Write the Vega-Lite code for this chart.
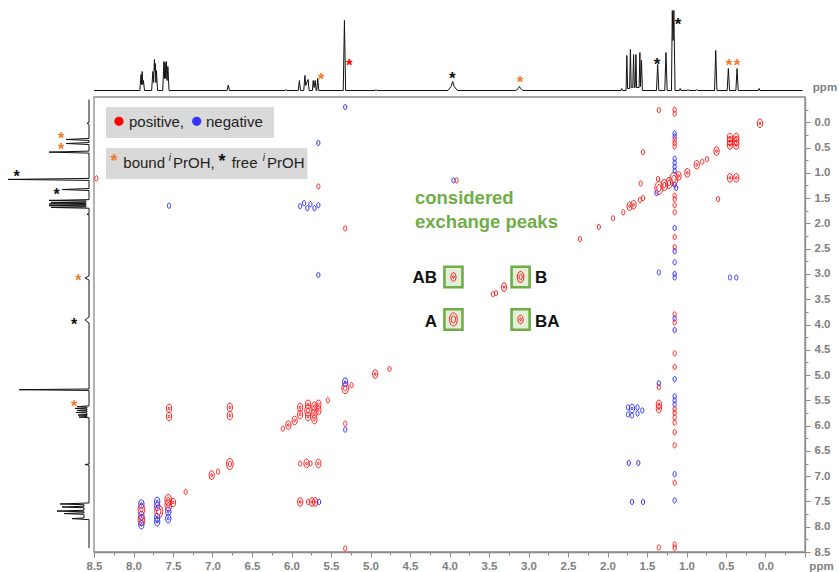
{
  "$schema": "https://vega.github.io/schema/vega-lite/v6.json",
  "width": 805,
  "height": 552,
  "autosize": {"type": "none"},
  "padding": {"left": 0, "top": 0, "right": 34, "bottom": 20},
  "background": "white",
  "config": {"view": {"stroke": null}, "axis": {"grid": false}, "font": "Liberation Sans"},
  "resolve": {"scale": {"x": "independent", "y": "independent", "color": "independent", "size": "independent"}, "axis": {"x": "independent", "y": "independent"}},
  "datasets": {
    "frame": [{"x1": -0.5, "x2": 8.5, "y1": -0.5, "y2": 8.5}],
    "legbox": [{"x1": 8.348, "x2": 6.222, "y1": -0.303, "y2": 0.311}, {"x1": 8.348, "x2": 5.80, "y1": 0.509, "y2": 1.123}],
    "boxes": [{"x": 3.95, "y": 3.06}, {"x": 3.10, "y": 3.06}, {"x": 3.95, "y": 3.90}, {"x": 3.10, "y": 3.90}],
    "peaks": [
      {"x":7.90,"y":7.55,"s":"negative","i":2},{"x":7.90,"y":7.66,"s":"positive","i":3},{"x":7.90,"y":7.78,"s":"negative","i":2},{"x":7.90,"y":7.87,"s":"positive","i":3},{"x":7.90,"y":7.96,"s":"negative","i":2},
      {"x":7.70,"y":7.50,"s":"negative","i":2},{"x":7.70,"y":7.60,"s":"negative","i":2},{"x":7.68,"y":7.70,"s":"positive","i":4},{"x":7.70,"y":7.82,"s":"negative","i":2},{"x":7.70,"y":7.90,"s":"negative","i":2},
      {"x":7.56,"y":7.47,"s":"positive","i":3},{"x":7.56,"y":7.58,"s":"positive","i":3},{"x":7.56,"y":7.70,"s":"negative","i":2},{"x":7.56,"y":7.84,"s":"negative","i":2},{"x":7.50,"y":7.52,"s":"positive","i":2},
      {"x":7.34,"y":7.31,"s":"positive","i":1},{"x":7.01,"y":6.98,"s":"positive","i":2},{"x":6.93,"y":6.91,"s":"positive","i":1},
      {"x":7.55,"y":5.66,"s":"positive","i":2},{"x":7.55,"y":5.82,"s":"positive","i":2},{"x":6.78,"y":5.64,"s":"positive","i":2},{"x":6.78,"y":5.80,"s":"positive","i":2},{"x":6.78,"y":6.76,"s":"positive","i":3},
      {"x":6.11,"y":6.06,"s":"positive","i":1},{"x":6.04,"y":5.99,"s":"positive","i":2},{"x":5.96,"y":5.90,"s":"positive","i":2},{"x":5.89,"y":5.64,"s":"positive","i":2},{"x":5.89,"y":5.78,"s":"positive","i":2},
      {"x":5.79,"y":5.58,"s":"positive","i":2},{"x":5.79,"y":5.70,"s":"positive","i":3},{"x":5.79,"y":5.82,"s":"positive","i":2},{"x":5.71,"y":5.62,"s":"positive","i":2},{"x":5.71,"y":5.76,"s":"positive","i":2},{"x":5.71,"y":5.88,"s":"positive","i":2},
      {"x":5.66,"y":5.58,"s":"positive","i":2},{"x":5.66,"y":5.70,"s":"positive","i":2},{"x":5.54,"y":5.50,"s":"positive","i":1},
      {"x":5.32,"y":5.26,"s":"positive","i":3},{"x":5.32,"y":5.14,"s":"negative","i":2},{"x":5.24,"y":5.20,"s":"positive","i":1},{"x":5.32,"y":5.96,"s":"positive","i":1},{"x":5.32,"y":6.08,"s":"negative","i":1},{"x":5.32,"y":8.43,"s":"positive","i":1},
      {"x":5.89,"y":6.75,"s":"positive","i":1},{"x":5.81,"y":6.75,"s":"positive","i":2},{"x":5.76,"y":6.75,"s":"positive","i":1},{"x":5.66,"y":6.75,"s":"positive","i":2},
      {"x":5.89,"y":7.51,"s":"positive","i":2},{"x":5.79,"y":7.51,"s":"positive","i":1},{"x":5.74,"y":7.51,"s":"positive","i":2},{"x":5.70,"y":7.51,"s":"positive","i":2},{"x":5.65,"y":7.51,"s":"negative","i":1},
      {"x":4.94,"y":4.98,"s":"positive","i":2},{"x":4.76,"y":4.88,"s":"positive","i":1},
      {"x":5.32,"y":-0.30,"s":"negative","i":1},{"x":5.66,"y":0.41,"s":"negative","i":1},{"x":5.66,"y":1.27,"s":"positive","i":1},{"x":7.55,"y":1.65,"s":"negative","i":1},
      {"x":5.89,"y":1.66,"s":"negative","i":1},{"x":5.84,"y":1.60,"s":"negative","i":1},{"x":5.80,"y":1.70,"s":"negative","i":1},{"x":5.76,"y":1.62,"s":"negative","i":1},{"x":5.71,"y":1.70,"s":"negative","i":1},{"x":5.66,"y":1.64,"s":"negative","i":1},
      {"x":5.32,"y":2.10,"s":"positive","i":1},{"x":5.66,"y":3.02,"s":"negative","i":1},{"x":3.95,"y":1.15,"s":"negative","i":1},{"x":3.91,"y":1.15,"s":"positive","i":1},{"x":8.47,"y":1.11,"s":"positive","i":1},
      {"x":3.31,"y":3.26,"s":"positive","i":2},{"x":3.45,"y":3.40,"s":"positive","i":1},{"x":3.41,"y":3.38,"s":"positive","i":1},{"x":2.35,"y":2.31,"s":"positive","i":1},{"x":2.11,"y":2.07,"s":"positive","i":1},
      {"x":1.93,"y":1.90,"s":"positive","i":1},{"x":1.80,"y":1.78,"s":"positive","i":1},{"x":1.72,"y":1.66,"s":"positive","i":2},{"x":1.67,"y":1.63,"s":"positive","i":2},{"x":1.59,"y":1.54,"s":"positive","i":1},{"x":1.55,"y":1.50,"s":"positive","i":1},
      {"x":3.95,"y":3.06,"s":"positive","i":2},{"x":3.10,"y":3.06,"s":"positive","i":3},{"x":3.95,"y":3.90,"s":"positive","i":4},{"x":3.10,"y":3.90,"s":"positive","i":2},
      {"x":1.35,"y":1.30,"s":"positive","i":4},{"x":1.28,"y":1.24,"s":"positive","i":3},{"x":1.22,"y":1.20,"s":"positive","i":3},{"x":1.16,"y":1.12,"s":"positive","i":4},{"x":1.36,"y":1.12,"s":"positive","i":1},{"x":1.10,"y":1.06,"s":"positive","i":2},
      {"x":0.99,"y":1.00,"s":"positive","i":2},{"x":0.87,"y":0.84,"s":"positive","i":2},{"x":0.80,"y":0.78,"s":"positive","i":1},{"x":0.74,"y":0.73,"s":"positive","i":1},{"x":0.62,"y":0.57,"s":"positive","i":2},{"x":0.07,"y":0.02,"s":"positive","i":2},
      {"x":0.45,"y":0.30,"s":"positive","i":2},{"x":0.45,"y":0.37,"s":"positive","i":2},{"x":0.45,"y":0.45,"s":"positive","i":2},{"x":0.37,"y":0.30,"s":"positive","i":2},{"x":0.37,"y":0.37,"s":"positive","i":2},{"x":0.37,"y":0.45,"s":"positive","i":2},
      {"x":0.45,"y":1.10,"s":"positive","i":2},{"x":0.37,"y":1.10,"s":"positive","i":2},{"x":0.45,"y":3.07,"s":"negative","i":1},{"x":0.37,"y":3.07,"s":"negative","i":1},
      {"x":1.58,"y":1.21,"s":"positive","i":1},{"x":1.55,"y":0.59,"s":"positive","i":1},{"x":0.60,"y":1.52,"s":"positive","i":1},{"x":1.35,"y":-0.24,"s":"positive","i":1},{"x":1.35,"y":2.97,"s":"negative","i":1},{"x":1.38,"y":1.40,"s":"negative","i":1},
      {"x":1.15,"y":-0.25,"s":"positive","i":1},{"x":1.15,"y":-0.17,"s":"positive","i":1},{"x":1.15,"y":0.22,"s":"negative","i":1},{"x":1.15,"y":0.28,"s":"negative","i":1},{"x":1.15,"y":0.34,"s":"positive","i":1},{"x":1.15,"y":0.41,"s":"positive","i":1},{"x":1.15,"y":0.48,"s":"positive","i":1},
      {"x":1.15,"y":0.72,"s":"negative","i":1},{"x":1.15,"y":0.80,"s":"negative","i":1},{"x":1.15,"y":0.88,"s":"negative","i":1},{"x":1.15,"y":0.96,"s":"negative","i":1},{"x":1.15,"y":1.24,"s":"negative","i":1},{"x":1.13,"y":1.30,"s":"negative","i":1},
      {"x":1.15,"y":1.45,"s":"positive","i":1},{"x":1.15,"y":1.52,"s":"positive","i":1},{"x":1.15,"y":1.64,"s":"positive","i":1},{"x":1.15,"y":1.78,"s":"positive","i":1},{"x":1.15,"y":2.09,"s":"negative","i":1},{"x":1.15,"y":2.27,"s":"positive","i":1},
      {"x":1.15,"y":2.47,"s":"positive","i":1},{"x":1.15,"y":2.55,"s":"negative","i":1},{"x":1.15,"y":2.77,"s":"negative","i":1},{"x":1.15,"y":3.00,"s":"negative","i":1},{"x":1.15,"y":3.07,"s":"negative","i":1},{"x":1.15,"y":3.80,"s":"positive","i":1},
      {"x":1.15,"y":3.88,"s":"negative","i":1},{"x":1.15,"y":3.96,"s":"positive","i":1},{"x":1.15,"y":4.11,"s":"negative","i":1},{"x":1.15,"y":4.57,"s":"positive","i":1},{"x":1.15,"y":4.84,"s":"positive","i":1},{"x":1.15,"y":5.08,"s":"negative","i":1},
      {"x":1.15,"y":5.42,"s":"negative","i":1},{"x":1.15,"y":5.50,"s":"negative","i":1},{"x":1.15,"y":5.58,"s":"negative","i":1},{"x":1.15,"y":5.67,"s":"positive","i":1},{"x":1.15,"y":5.75,"s":"positive","i":1},{"x":1.15,"y":5.84,"s":"positive","i":1},
      {"x":1.15,"y":5.94,"s":"positive","i":1},{"x":1.15,"y":6.13,"s":"positive","i":1},{"x":1.15,"y":6.39,"s":"positive","i":1},{"x":1.15,"y":6.96,"s":"negative","i":1},{"x":1.15,"y":7.13,"s":"positive","i":1},{"x":1.15,"y":7.48,"s":"negative","i":1},
      {"x":1.15,"y":8.35,"s":"positive","i":1},{"x":1.15,"y":8.42,"s":"positive","i":1},
      {"x":1.35,"y":5.16,"s":"negative","i":1},{"x":1.35,"y":5.24,"s":"positive","i":1},{"x":1.35,"y":5.58,"s":"positive","i":2},{"x":1.35,"y":5.66,"s":"positive","i":2},{"x":1.35,"y":8.41,"s":"positive","i":1},
      {"x":1.74,"y":5.64,"s":"negative","i":1},{"x":1.69,"y":5.66,"s":"negative","i":2},{"x":1.69,"y":5.80,"s":"negative","i":1},{"x":1.62,"y":5.64,"s":"negative","i":1},{"x":1.62,"y":5.76,"s":"negative","i":1},{"x":1.56,"y":5.70,"s":"negative","i":1},{"x":1.74,"y":5.78,"s":"negative","i":1},
      {"x":1.73,"y":6.74,"s":"negative","i":1},{"x":1.61,"y":6.74,"s":"negative","i":1},{"x":1.69,"y":7.51,"s":"negative","i":1},{"x":1.55,"y":7.51,"s":"negative","i":1}
    ],
    "top": [
      {"p":8.5,"h":0},{"p":7.92,"h":0},{"p":7.905,"h":16},{"p":7.898,"h":6},{"p":7.89,"h":19},{"p":7.882,"h":6},{"p":7.875,"h":10},{"p":7.86,"h":0},
      {"p":7.77,"h":0},{"p":7.755,"h":19},{"p":7.745,"h":8},{"p":7.735,"h":31},{"p":7.73,"h":20},{"p":7.725,"h":27},{"p":7.717,"h":8},{"p":7.71,"h":20},{"p":7.695,"h":0},
      {"p":7.63,"h":0},{"p":7.615,"h":29},{"p":7.607,"h":12},{"p":7.60,"h":28},{"p":7.592,"h":12},{"p":7.585,"h":29},{"p":7.575,"h":10},{"p":7.565,"h":24},{"p":7.55,"h":0},
      {"p":6.815,"h":0},{"p":6.80,"h":5.5},{"p":6.785,"h":0},{"p":6.08,"h":0},{"p":6.07,"h":1},{"p":6.06,"h":0},
      {"p":5.915,"h":0},{"p":5.90,"h":10},{"p":5.887,"h":0},{"p":5.845,"h":0},{"p":5.83,"h":15},{"p":5.82,"h":5},{"p":5.79,"h":11},{"p":5.777,"h":0},
      {"p":5.735,"h":0},{"p":5.725,"h":10},{"p":5.715,"h":3},{"p":5.70,"h":10},{"p":5.688,"h":0},{"p":5.68,"h":0},{"p":5.668,"h":12},{"p":5.655,"h":0},
      {"p":5.345,"h":0},{"p":5.33,"h":70},{"p":5.315,"h":0},{"p":4.94,"h":0},{"p":4.93,"h":1},{"p":4.92,"h":0},
      {"p":4.02,"h":0},{"p":3.98,"h":4},{"p":3.96,"h":9},{"p":3.94,"h":4},{"p":3.90,"h":0},
      {"p":3.16,"h":0},{"p":3.13,"h":2},{"p":3.115,"h":4},{"p":3.10,"h":2},{"p":3.07,"h":0},
      {"p":1.83,"h":0},{"p":1.82,"h":2},{"p":1.81,"h":0},
      {"p":1.765,"h":0},{"p":1.755,"h":35},{"p":1.745,"h":2},{"p":1.72,"h":2},{"p":1.71,"h":41},{"p":1.70,"h":3},{"p":1.68,"h":3},{"p":1.67,"h":36},{"p":1.66,"h":3},
      {"p":1.65,"h":3},{"p":1.64,"h":36},{"p":1.632,"h":3},{"p":1.60,"h":3},{"p":1.59,"h":38},{"p":1.582,"h":4},{"p":1.57,"h":30},{"p":1.558,"h":0},
      {"p":1.38,"h":0},{"p":1.365,"h":26},{"p":1.35,"h":0},{"p":1.275,"h":0},{"p":1.26,"h":38},{"p":1.245,"h":0},
      {"p":1.19,"h":0},{"p":1.18,"h":80},{"p":1.17,"h":50},{"p":1.16,"h":80},{"p":1.145,"h":0},
      {"p":1.09,"h":0},{"p":1.08,"h":2},{"p":1.07,"h":0},{"p":0.99,"h":0},{"p":0.98,"h":1},{"p":0.97,"h":0},{"p":0.88,"h":0},{"p":0.87,"h":1},{"p":0.86,"h":0},
      {"p":0.645,"h":0},{"p":0.63,"h":40},{"p":0.615,"h":0},{"p":0.485,"h":0},{"p":0.47,"h":22},{"p":0.455,"h":0},{"p":0.375,"h":0},{"p":0.36,"h":22},{"p":0.345,"h":0},
      {"p":0.09,"h":0},{"p":0.08,"h":2},{"p":0.07,"h":0},{"p":-0.47,"h":0}
    ],
    "left": [
      {"p":-0.45,"h":0},{"p":0.0,"h":0},{"p":0.02,"h":2},{"p":0.04,"h":0},
      {"p":0.32,"h":0},{"p":0.34,"h":23},{"p":0.36,"h":0},{"p":0.40,"h":0},{"p":0.42,"h":23},{"p":0.44,"h":0},
      {"p":0.57,"h":0},{"p":0.59,"h":40},{"p":0.61,"h":0},{"p":1.11,"h":0},{"p":1.13,"h":81},{"p":1.15,"h":0},
      {"p":1.31,"h":0},{"p":1.33,"h":27},{"p":1.35,"h":0},
      {"p":1.53,"h":0},{"p":1.545,"h":40},{"p":1.555,"h":3},{"p":1.575,"h":3},{"p":1.585,"h":38},{"p":1.595,"h":3},{"p":1.605,"h":3},{"p":1.615,"h":40},{"p":1.625,"h":3},
      {"p":1.64,"h":3},{"p":1.65,"h":40},{"p":1.66,"h":3},{"p":1.675,"h":3},{"p":1.685,"h":38},{"p":1.70,"h":0},
      {"p":1.81,"h":0},{"p":1.82,"h":2},{"p":1.83,"h":0},{"p":3.04,"h":0},{"p":3.08,"h":4},{"p":3.12,"h":0},{"p":3.85,"h":0},{"p":3.91,"h":4},{"p":3.97,"h":0},
      {"p":5.275,"h":0},{"p":5.29,"h":70},{"p":5.305,"h":0},
      {"p":5.61,"h":0},{"p":5.625,"h":12},{"p":5.635,"h":2},{"p":5.65,"h":2},{"p":5.66,"h":14},{"p":5.67,"h":2},{"p":5.69,"h":2},{"p":5.70,"h":12},{"p":5.71,"h":2},
      {"p":5.73,"h":2},{"p":5.74,"h":13},{"p":5.75,"h":2},{"p":5.78,"h":2},{"p":5.79,"h":11},{"p":5.80,"h":2},{"p":5.82,"h":2},{"p":5.83,"h":10},{"p":5.845,"h":0},
      {"p":6.76,"h":0},{"p":6.77,"h":4},{"p":6.78,"h":0},
      {"p":7.53,"h":0},{"p":7.55,"h":29},{"p":7.565,"h":5},{"p":7.595,"h":5},{"p":7.61,"h":27},{"p":7.625,"h":5},{"p":7.675,"h":5},{"p":7.69,"h":32},{"p":7.705,"h":5},
      {"p":7.725,"h":5},{"p":7.74,"h":25},{"p":7.755,"h":5},{"p":7.825,"h":5},{"p":7.84,"h":17},{"p":7.86,"h":0},{"p":8.42,"h":0}
    ],
    "topstars": [
      {"x":5.627,"h":15.5,"k":"bound"},{"x":5.268,"h":29.8,"k":"ref"},{"x":3.965,"h":16.5,"k":"free"},{"x":3.108,"h":12.5,"k":"bound"},
      {"x":1.373,"h":30.5,"k":"free"},{"x":1.108,"h":70.5,"k":"free"},{"x":0.462,"h":29.5,"k":"bound"},{"x":0.361,"h":29.5,"k":"bound"}
    ],
    "leftstars": [
      {"y":0.23,"h":28,"k":"bound"},{"y":0.445,"h":28,"k":"bound"},{"y":0.978,"h":72.3,"k":"free"},{"y":1.341,"h":32.3,"k":"free"},
      {"y":3.038,"h":10.7,"k":"bound"},{"y":3.915,"h":15,"k":"free"},{"y":5.533,"h":15,"k":"bound"}
    ],
    "legstars": [{"x":8.247,"y":0.687,"k":"bound"},{"x":6.88,"y":0.687,"k":"free"}],
    "legdots": [{"x":8.184,"y":-0.02,"s":"positive"},{"x":7.20,"y":-0.02,"s":"negative"}],
    "legtext": [{"t":"positive,","x":8.057,"y":0.0},{"t":"negative","x":7.082,"y":0.0},{"t":"bound","x":8.129,"y":0.81},{"t":"PrOH,","x":7.50,"y":0.81},{"t":"free","x":6.757,"y":0.81},{"t":"PrOH","x":6.31,"y":0.81}],
    "legsup": [{"t":"i","x":7.555,"y":0.70},{"t":"i","x":6.365,"y":0.70}],
    "green": [{"t":"considered","x":4.437,"y":1.50},{"t":"exchange peaks","x":4.437,"y":1.976}],
    "exlab": [{"t":"AB","x":4.158,"y":3.08},{"t":"A","x":4.158,"y":3.96},{"t":"B","x":2.918,"y":3.08},{"t":"BA","x":2.918,"y":3.96}],
    "ppmtop": [{"t":"ppm","x":-0.753,"h":3}]
  },
  "layer": [
    {
      "data": {"name": "frame"},
      "mark": {"type": "rect", "fill": null, "stroke": "#8a8a8a", "strokeWidth": 1.3},
      "encoding": {
        "x": {"field": "x1", "type": "quantitative", "scale": {"domain": [-0.5, 8.5], "range": [805, 94], "nice": false, "zero": false},
          "axis": {"orient": "bottom", "values": [8.5, 8, 7.5, 7, 6.5, 6, 5.5, 5, 4.5, 4, 3.5, 3, 2.5, 2, 1.5, 1, 0.5, 0, -0.5], "labelExpr": "datum.value < -0.25 ? '' : format(datum.value, '.1f')",
            "tickSize": 5, "tickColor": "#8a8a8a", "domainColor": "#8a8a8a", "domainWidth": 1.3, "labelColor": "#808080", "labelFont": "Liberation Sans", "labelFontWeight": "bold", "labelFontSize": 11.5,
            "labelPadding": 3, "labelOverlap": false, "labelFlush": false, "title": "ppm", "titleX": 821, "titleY": 14, "titleAlign": "center", "titleBaseline": "middle", "titleAngle": 0,
            "titleFont": "Liberation Sans", "titleFontWeight": "bold", "titleFontSize": 11.5, "titleColor": "#808080"}},
        "x2": {"field": "x2"},
        "y": {"field": "y1", "type": "quantitative", "scale": {"domain": [-0.5, 8.5], "range": [97, 552], "nice": false, "zero": false},
          "axis": {"orient": "right", "values": [0, 0.5, 1, 1.5, 2, 2.5, 3, 3.5, 4, 4.5, 5, 5.5, 6, 6.5, 7, 7.5, 8, 8.5], "format": ".1f",
            "tickSize": 5, "tickColor": "#8a8a8a", "domainColor": "#8a8a8a", "domainWidth": 1.3, "labelColor": "#808080", "labelFont": "Liberation Sans", "labelFontWeight": "bold", "labelFontSize": 11.5,
            "labelPadding": 4, "labelOverlap": false, "labelFlush": false, "title": null}},
        "y2": {"field": "y2"}
      }
    },
    {
      "data": {"name": "frame"},
      "mark": {"type": "point", "opacity": 0},
      "encoding": {
        "x": {"field": "x1", "type": "quantitative", "scale": {"domain": [-0.5, 8.5], "range": [805, 94], "nice": false, "zero": false},
          "axis": {"orient": "bottom", "values": [8.25, 7.75, 7.25, 6.75, 6.25, 5.75, 5.25, 4.75, 4.25, 3.75, 3.25, 2.75, 2.25, 1.75, 1.25, 0.75, 0.25, -0.25], "labels": false, "domain": false, "tickSize": 3, "tickColor": "#8a8a8a", "title": null}},
        "y": {"field": "y1", "type": "quantitative", "scale": {"domain": [-0.5, 8.5], "range": [97, 552], "nice": false, "zero": false},
          "axis": {"orient": "right", "values": [-0.25, 0.25, 0.75, 1.25, 1.75, 2.25, 2.75, 3.25, 3.75, 4.25, 4.75, 5.25, 5.75, 6.25, 6.75, 7.25, 7.75, 8.25], "labels": false, "domain": false, "tickSize": 3, "tickColor": "#8a8a8a", "title": null}}
      }
    },
    {
      "data": {"name": "legbox"},
      "mark": {"type": "rect", "fill": "#d9d9d9"},
      "encoding": {
        "x": {"field": "x1", "type": "quantitative", "scale": {"domain": [-0.5, 8.5], "range": [805, 94], "nice": false, "zero": false}, "axis": null},
        "x2": {"field": "x2"},
        "y": {"field": "y1", "type": "quantitative", "scale": {"domain": [-0.5, 8.5], "range": [97, 552], "nice": false, "zero": false}, "axis": null},
        "y2": {"field": "y2"}
      }
    },
    {
      "data": {"name": "boxes"},
      "mark": {"type": "point", "shape": "M-0.88,-1H0.88V1H-0.88Z", "size": 420, "filled": true, "fill": "#e2efd9", "stroke": "#70ad47", "strokeWidth": 2.6, "opacity": 1},
      "encoding": {
        "x": {"field": "x", "type": "quantitative", "scale": {"domain": [-0.5, 8.5], "range": [805, 94], "nice": false, "zero": false}, "axis": null},
        "y": {"field": "y", "type": "quantitative", "scale": {"domain": [-0.5, 8.5], "range": [97, 552], "nice": false, "zero": false}, "axis": null}
      }
    },
    {
      "data": {"name": "peaks"},
      "mark": {"type": "point", "shape": "M0,-1A0.6,1,0,1,1,0,1A0.6,1,0,1,1,0,-1Z", "filled": false, "strokeWidth": 1, "opacity": 1},
      "encoding": {
        "x": {"field": "x", "type": "quantitative", "scale": {"domain": [-0.5, 8.5], "range": [805, 94], "nice": false, "zero": false}, "axis": null},
        "y": {"field": "y", "type": "quantitative", "scale": {"domain": [-0.5, 8.5], "range": [97, 552], "nice": false, "zero": false}, "axis": null},
        "color": {"field": "s", "type": "nominal", "scale": {"domain": ["positive", "negative"], "range": ["#ff1a1a", "#2b2bff"]}, "legend": null},
        "size": {"field": "i", "type": "quantitative", "scale": {"domain": [1, 4], "range": [28, 170], "zero": false}, "legend": null}
      }
    },
    {
      "data": {"name": "peaks"},
      "transform": [{"filter": "datum.i >= 2"}],
      "mark": {"type": "point", "shape": "M0,-1A0.6,1,0,1,1,0,1A0.6,1,0,1,1,0,-1Z", "filled": false, "strokeWidth": 1, "opacity": 1},
      "encoding": {
        "x": {"field": "x", "type": "quantitative", "scale": {"domain": [-0.5, 8.5], "range": [805, 94], "nice": false, "zero": false}, "axis": null},
        "y": {"field": "y", "type": "quantitative", "scale": {"domain": [-0.5, 8.5], "range": [97, 552], "nice": false, "zero": false}, "axis": null},
        "color": {"field": "s", "type": "nominal", "scale": {"domain": ["positive", "negative"], "range": ["#ff1a1a", "#2b2bff"]}, "legend": null},
        "size": {"field": "i", "type": "quantitative", "scale": {"domain": [2, 4], "range": [8, 50], "zero": false}, "legend": null}
      }
    },
    {
      "data": {"name": "top"},
      "mark": {"type": "line", "color": "#111111", "strokeWidth": 1},
      "encoding": {
        "x": {"field": "p", "type": "quantitative", "scale": {"domain": [-0.5, 8.5], "range": [805, 94], "nice": false, "zero": false}, "axis": null},
        "y": {"field": "h", "type": "quantitative", "scale": {"domain": [0, 80], "range": [90.5, 10.5], "nice": false, "zero": false}, "axis": null},
        "order": {"field": "p", "type": "quantitative"}
      }
    },
    {
      "data": {"name": "left"},
      "mark": {"type": "line", "color": "#111111", "strokeWidth": 1},
      "encoding": {
        "x": {"field": "h", "type": "quantitative", "scale": {"domain": [0, 80], "range": [89, 9], "nice": false, "zero": false}, "axis": null},
        "y": {"field": "p", "type": "quantitative", "scale": {"domain": [-0.5, 8.5], "range": [97, 552], "nice": false, "zero": false}, "axis": null},
        "order": {"field": "p", "type": "quantitative"}
      }
    },
    {
      "data": {"name": "topstars"},
      "mark": {"type": "text", "text": "*", "fontSize": 17, "fontWeight": "bold", "baseline": "middle", "align": "center", "dy": 5},
      "encoding": {
        "x": {"field": "x", "type": "quantitative", "scale": {"domain": [-0.5, 8.5], "range": [805, 94], "nice": false, "zero": false}, "axis": null},
        "y": {"field": "h", "type": "quantitative", "scale": {"domain": [0, 80], "range": [90.5, 10.5], "nice": false, "zero": false}, "axis": null},
        "color": {"field": "k", "type": "nominal", "scale": {"domain": ["bound", "free", "ref"], "range": ["#ed7d31", "#111111", "#ff0000"]}, "legend": null}
      }
    },
    {
      "data": {"name": "leftstars"},
      "mark": {"type": "text", "text": "*", "fontSize": 16, "fontWeight": "bold", "baseline": "middle", "align": "center", "dy": 5},
      "encoding": {
        "x": {"field": "h", "type": "quantitative", "scale": {"domain": [0, 80], "range": [89, 9], "nice": false, "zero": false}, "axis": null},
        "y": {"field": "y", "type": "quantitative", "scale": {"domain": [-0.5, 8.5], "range": [97, 552], "nice": false, "zero": false}, "axis": null},
        "color": {"field": "k", "type": "nominal", "scale": {"domain": ["bound", "free", "ref"], "range": ["#ed7d31", "#111111", "#ff0000"]}, "legend": null}
      }
    },
    {
      "data": {"name": "legstars"},
      "mark": {"type": "text", "text": "*", "fontSize": 18, "fontWeight": "bold", "baseline": "middle", "align": "center", "dy": 5},
      "encoding": {
        "x": {"field": "x", "type": "quantitative", "scale": {"domain": [-0.5, 8.5], "range": [805, 94], "nice": false, "zero": false}, "axis": null},
        "y": {"field": "y", "type": "quantitative", "scale": {"domain": [-0.5, 8.5], "range": [97, 552], "nice": false, "zero": false}, "axis": null},
        "color": {"field": "k", "type": "nominal", "scale": {"domain": ["bound", "free", "ref"], "range": ["#ed7d31", "#111111", "#ff0000"]}, "legend": null}
      }
    },
    {
      "data": {"name": "legdots"},
      "mark": {"type": "point", "shape": "circle", "filled": true, "size": 85, "opacity": 1},
      "encoding": {
        "x": {"field": "x", "type": "quantitative", "scale": {"domain": [-0.5, 8.5], "range": [805, 94], "nice": false, "zero": false}, "axis": null},
        "y": {"field": "y", "type": "quantitative", "scale": {"domain": [-0.5, 8.5], "range": [97, 552], "nice": false, "zero": false}, "axis": null},
        "color": {"field": "s", "type": "nominal", "scale": {"domain": ["positive", "negative"], "range": ["#ff0000", "#3333ff"]}, "legend": null}
      }
    },
    {
      "data": {"name": "legtext"},
      "mark": {"type": "text", "fontSize": 15, "align": "left", "baseline": "middle", "color": "#222222", "font": "Liberation Sans"},
      "encoding": {
        "x": {"field": "x", "type": "quantitative", "scale": {"domain": [-0.5, 8.5], "range": [805, 94], "nice": false, "zero": false}, "axis": null},
        "y": {"field": "y", "type": "quantitative", "scale": {"domain": [-0.5, 8.5], "range": [97, 552], "nice": false, "zero": false}, "axis": null},
        "text": {"field": "t"}
      }
    },
    {
      "data": {"name": "legsup"},
      "mark": {"type": "text", "fontSize": 10, "fontStyle": "italic", "align": "left", "baseline": "middle", "color": "#222222", "font": "Liberation Sans"},
      "encoding": {
        "x": {"field": "x", "type": "quantitative", "scale": {"domain": [-0.5, 8.5], "range": [805, 94], "nice": false, "zero": false}, "axis": null},
        "y": {"field": "y", "type": "quantitative", "scale": {"domain": [-0.5, 8.5], "range": [97, 552], "nice": false, "zero": false}, "axis": null},
        "text": {"field": "t"}
      }
    },
    {
      "data": {"name": "green"},
      "mark": {"type": "text", "fontSize": 18.5, "fontWeight": "bold", "align": "left", "baseline": "middle", "color": "#70ad47", "font": "Liberation Sans"},
      "encoding": {
        "x": {"field": "x", "type": "quantitative", "scale": {"domain": [-0.5, 8.5], "range": [805, 94], "nice": false, "zero": false}, "axis": null},
        "y": {"field": "y", "type": "quantitative", "scale": {"domain": [-0.5, 8.5], "range": [97, 552], "nice": false, "zero": false}, "axis": null},
        "text": {"field": "t"}
      }
    },
    {
      "data": {"name": "exlab"},
      "transform": [{"filter": "datum.t == 'AB' || datum.t == 'A'"}],
      "mark": {"type": "text", "fontSize": 17, "fontWeight": "bold", "align": "right", "baseline": "middle", "color": "#111111", "font": "Liberation Sans"},
      "encoding": {
        "x": {"field": "x", "type": "quantitative", "scale": {"domain": [-0.5, 8.5], "range": [805, 94], "nice": false, "zero": false}, "axis": null},
        "y": {"field": "y", "type": "quantitative", "scale": {"domain": [-0.5, 8.5], "range": [97, 552], "nice": false, "zero": false}, "axis": null},
        "text": {"field": "t"}
      }
    },
    {
      "data": {"name": "exlab"},
      "transform": [{"filter": "datum.t == 'B' || datum.t == 'BA'"}],
      "mark": {"type": "text", "fontSize": 17, "fontWeight": "bold", "align": "left", "baseline": "middle", "color": "#111111", "font": "Liberation Sans"},
      "encoding": {
        "x": {"field": "x", "type": "quantitative", "scale": {"domain": [-0.5, 8.5], "range": [805, 94], "nice": false, "zero": false}, "axis": null},
        "y": {"field": "y", "type": "quantitative", "scale": {"domain": [-0.5, 8.5], "range": [97, 552], "nice": false, "zero": false}, "axis": null},
        "text": {"field": "t"}
      }
    },
    {
      "data": {"name": "ppmtop"},
      "mark": {"type": "text", "fontSize": 11.5, "fontWeight": "bold", "align": "center", "baseline": "middle", "color": "#808080", "font": "Liberation Sans"},
      "encoding": {
        "x": {"field": "x", "type": "quantitative", "scale": {"domain": [-0.5, 8.5], "range": [805, 94], "nice": false, "zero": false}, "axis": null},
        "y": {"field": "h", "type": "quantitative", "scale": {"domain": [0, 80], "range": [90.5, 10.5], "nice": false, "zero": false}, "axis": null},
        "text": {"field": "t"}
      }
    }
  ]
}
